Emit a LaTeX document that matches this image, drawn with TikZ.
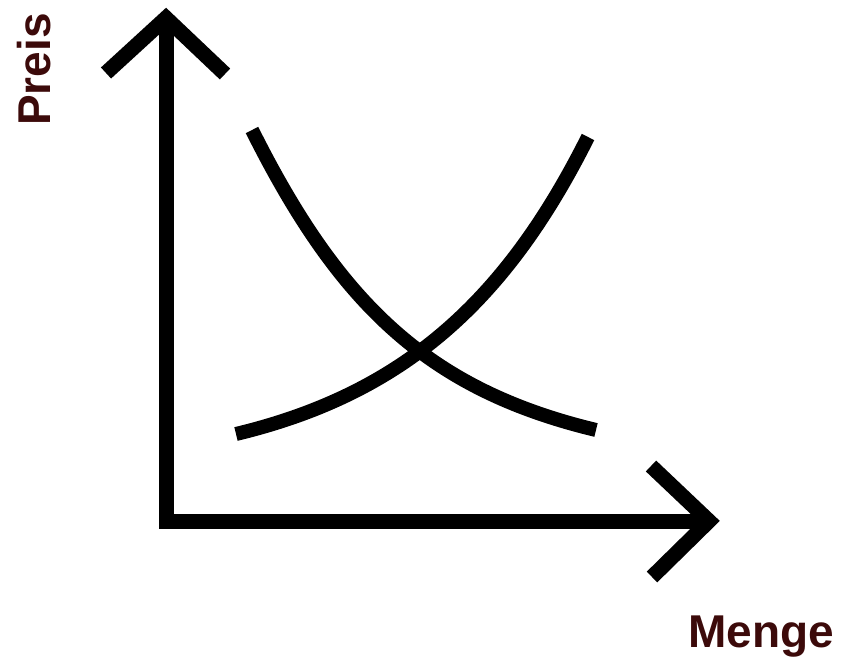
\documentclass[tikz,border=0pt]{standalone}
\usepackage{fontspec}
\setmainfont{Liberation Sans}
\definecolor{labelbrown}{RGB}{60,10,10}
\begin{document}
\begin{tikzpicture}[x=1pt,y=-1pt,
  axis/.style={line width=15pt,line join=miter,line cap=butt,black},
  curve/.style={line width=14pt,line cap=butt,black},
  lab/.style={font=\fontsize{46}{55}\selectfont\bfseries,text=labelbrown,inner sep=0pt}]
\useasboundingbox (0,0) rectangle (843,661);
% axes
\coordinate (top) at (166,18);
\coordinate (origin) at (166,521);
\coordinate (right) at (709,521);
\coordinate (tl) at (106,73);
\coordinate (tr) at (225,74);
\coordinate (ru) at (651,466);
\coordinate (rd) at (652,577);
\draw[axis] (top) -- (origin) -- (right);
\draw[axis] (tl) -- (top) -- (tr);
\draw[axis] (ru) -- (right) -- (rd);
% curves
\coordinate (d0) at (252,130);
\coordinate (d1) at (596,430);
\coordinate (s0) at (236,434);
\coordinate (s1) at (588,137);
\draw[curve] (d0) .. controls (340,306) and (430,390) .. (d1);
\draw[curve] (s0) .. controls (402,394) and (505,303) .. (s1);
% labels
\node[lab,anchor=base west] (menge) at (688,647) {Menge};
\node[lab,anchor=base west,rotate=90] (preis) at (50,126) {Preis};
\end{tikzpicture}
\end{document}
